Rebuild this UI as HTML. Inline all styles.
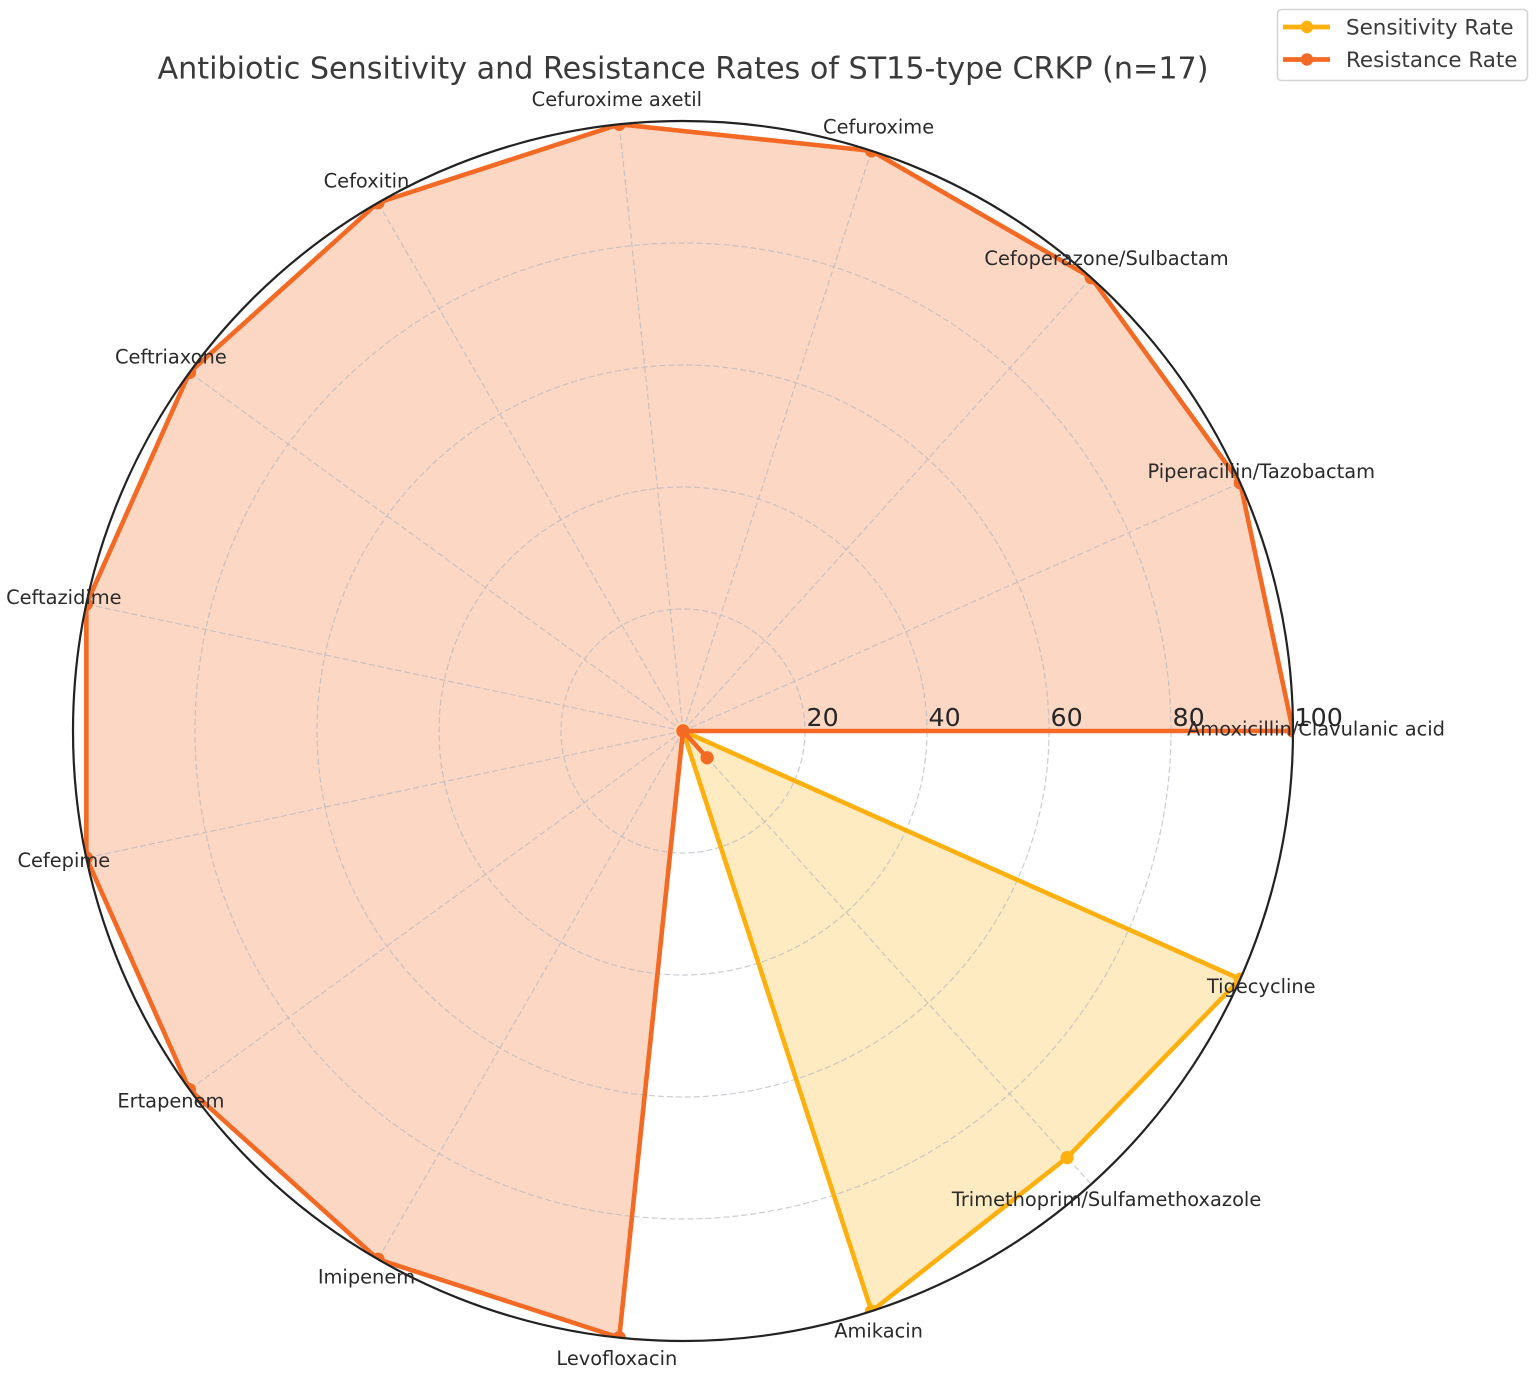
<!DOCTYPE html>
<html lang="en">
<head>
<meta charset="utf-8">
<title>Antibiotic Sensitivity and Resistance Rates of ST15-type CRKP (n=17)</title>
<style>
  html, body { margin: 0; padding: 0; background: #fff; }
  svg { display: block; font-family: "DejaVu Sans", "Liberation Sans", sans-serif; }
</style>
</head>
<body>
<svg id="chart" xmlns="http://www.w3.org/2000/svg" width="1536" height="1373" viewBox="0 0 1536 1373">
  <defs>
    <clipPath id="plot-clip"><circle cx="683" cy="731" r="610"></circle></clipPath>
  </defs>
  <g id="fills" clip-path="url(#plot-clip)"></g>
  <g id="grid"></g>
  <g id="lines" clip-path="url(#plot-clip)"></g>
  <circle cx="683" cy="731" r="610" fill="none" stroke="#222" stroke-width="2.2"></circle>
  <g id="ticks"></g>
  <g id="labels"></g>
  <text x="683" y="78.5" text-anchor="middle" font-size="30.2" fill="#3a3a3a">Antibiotic Sensitivity and Resistance Rates of ST15-type CRKP (n=17)</text>
  <g>
    <rect x="1277.5" y="9.5" width="250" height="71" rx="4" fill="#fff" fill-opacity="0.8" stroke="#d4d4d4" stroke-width="1.6"></rect>
    <g>
      <line x1="1283" x2="1330" y1="27" y2="27" stroke="#FFB00F" stroke-width="4.8"></line>
      <circle cx="1307" cy="27" r="6.2" fill="#FFB00F"></circle>
      <text x="1346" y="34.5" font-size="21.45" fill="#3a3a3a">Sensitivity Rate</text>
    </g>
    <g>
      <line x1="1283" x2="1330" y1="59.5" y2="59.5" stroke="#F46A25" stroke-width="4.8"></line>
      <circle cx="1307" cy="59.5" r="6.2" fill="#F46A25"></circle>
      <text x="1346" y="67" font-size="21.45" fill="#3a3a3a">Resistance Rate</text>
    </g>
  </g>
</svg>
<script>
const categories = ["Amoxicillin/Clavulanic acid", "Piperacillin/Tazobactam", "Cefoperazone/Sulbactam", "Cefuroxime", "Cefuroxime axetil", "Cefoxitin", "Ceftriaxone", "Ceftazidime", "Cefepime", "Ertapenem", "Imipenem", "Levofloxacin", "Amikacin", "Trimethoprim/Sulfamethoxazole", "Tigecycline"];
const sensitivityValues = [0, 0, 0, 0, 0, 0, 0, 0, 0, 0, 0, 0, 100, 94.1, 100];
const resistanceValues = [100, 100, 100, 100, 100, 100, 100, 100, 100, 100, 100, 100, 0, 5.9, 0];
const radialTicks = [20, 40, 60, 80, 100];
const radialMax = 100;

const SVG_NS = "http://www.w3.org/2000/svg";
const centerX = 683, centerY = 731, plotRadius = 610, labelRadius = 633;

function rScale(v) { return v / radialMax * plotRadius; }
function angleOf(i) { return i / categories.length * 2 * Math.PI; }
function px(i, v) { return centerX + rScale(v) * Math.cos(angleOf(i)); }
function py(i, v) { return centerY - rScale(v) * Math.sin(angleOf(i)); }
function make(tag, attrs) {
  const el = document.createElementNS(SVG_NS, tag);
  for (const k in attrs) el.setAttribute(k, attrs[k]);
  return el;
}
function outline(values) {
  let d = "";
  values.forEach(function (v, i) { d += (i ? "L" : "M") + px(i, v).toFixed(2) + " " + py(i, v).toFixed(2) + " "; });
  return d + "L" + px(0, values[0]).toFixed(2) + " " + py(0, values[0]).toFixed(2);
}

const gFills = document.getElementById("fills");
const gGrid = document.getElementById("grid");
const gLines = document.getElementById("lines");
const gTicks = document.getElementById("ticks");
const gLabels = document.getElementById("labels");

function drawFill(values, color, opacity, name) {
  const el = make("path", { d: outline(values) + " Z", fill: color, "fill-opacity": opacity });
  
  
  gFills.appendChild(el);
}
function drawLine(values, color, name) {
  const line = make("path", { d: outline(values), fill: "none", stroke: color, "stroke-width": 4.6, "stroke-linejoin": "round" });
  
  
  gLines.appendChild(line);
  values.forEach(function (v, i) {
    const dot = make("circle", { cx: px(i, v), cy: py(i, v), r: 6.6, fill: color });
    
    
    gLines.appendChild(dot);
  });
}

drawFill(sensitivityValues, "#FFB00F", 0.26, "sensitivity-area");
drawFill(resistanceValues, "#F46A25", 0.27, "resistance-area");

radialTicks.forEach(function (t) {
  if (t >= radialMax) return;
  const ring = make("circle", { cx: centerX, cy: centerY, r: rScale(t), fill: "none", stroke: "#b4b8c0", "stroke-opacity": 0.7, "stroke-width": 1.2, "stroke-dasharray": "6 3" });
  
  
  gGrid.appendChild(ring);
});
categories.forEach(function (c, i) {
  const spoke = make("line", { x1: centerX, y1: centerY, x2: px(i, radialMax), y2: py(i, radialMax), stroke: "#b4b8c0", "stroke-opacity": 0.7, "stroke-width": 1.2, "stroke-dasharray": "6 3" });
  
  
  gGrid.appendChild(spoke);
});

drawLine(sensitivityValues, "#FFB00F", "sensitivity");
drawLine(resistanceValues, "#F46A25", "resistance");

radialTicks.forEach(function (t) {
  const label = make("text", { x: centerX + rScale(t) + 1.5, y: 726, "font-size": 25.3, fill: "#262626" });
  label.textContent = t;
  
  
  gTicks.appendChild(label);
});

categories.forEach(function (c, i) {
  const x = centerX + labelRadius * Math.cos(angleOf(i));
  const y = centerY - labelRadius * Math.sin(angleOf(i)) + 4.5;
  const label = make("text", { x: x, y: y, "text-anchor": "middle", "font-size": 19.4, fill: "#2a2a2a" });
  label.textContent = c;
  
  
  gLabels.appendChild(label);
});
</script>
</body>
</html>
